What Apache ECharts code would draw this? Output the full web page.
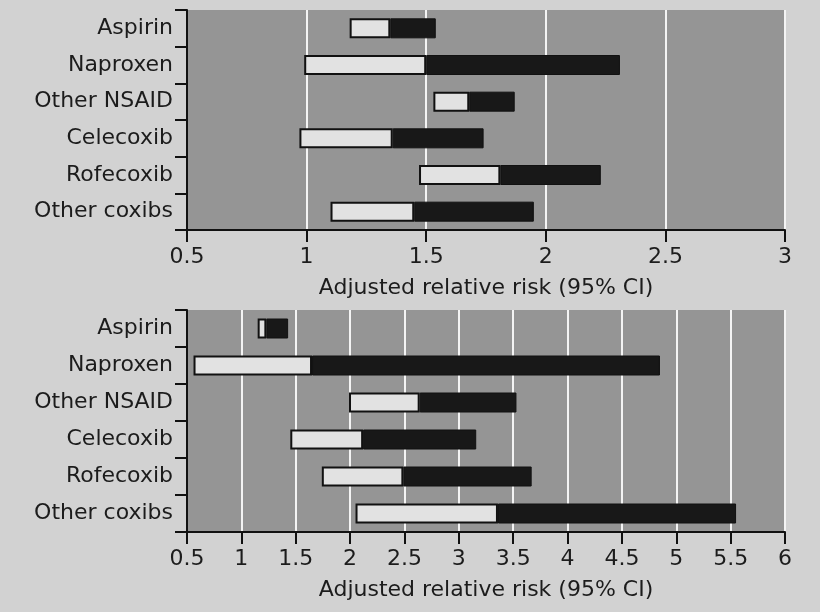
<!DOCTYPE html>
<html>
<head>
<meta charset="utf-8">
<script src="https://cdn.jsdelivr.net/npm/echarts@6/dist/echarts.min.js"></script>
<style>
html,body{margin:0;padding:0;background:#d2d2d2;}
#chart{width:820px;height:612px;}
</style>
</head>
<body>
<div id="chart"></div>
<script>
const categories = ['Aspirin', 'Naproxen', 'Other NSAID', 'Celecoxib', 'Rofecoxib', 'Other coxibs'];

// Top panel
const topLower = [1.18, 0.99, 1.53, 0.97, 1.47, 1.10];
const topPoint = [1.35, 1.50, 1.68, 1.36, 1.81, 1.45];
const topUpper = [1.54, 2.31, 1.87, 1.74, 2.23, 1.95];
const topTicks = [0.5, 3, 0.5]; // min, max, interval

// Bottom panel
const botLower = [1.15, 0.56, 1.99, 1.45, 1.74, 2.05];
const botPoint = [1.23, 1.65, 2.64, 2.12, 2.49, 3.36];
const botUpper = [1.43, 4.85, 3.53, 3.16, 3.67, 5.55];
const botTicks = [0.5, 6, 0.5];

const axisTitle = 'Adjusted relative risk (95% CI)';

const FONT = 'DejaVu Sans';
const TXT = '#1c1c1c';

function xAxisCfg(gridIndex, ticks) {
  return {
    type: 'value', gridIndex: gridIndex,
    min: ticks[0], max: ticks[1], interval: ticks[2],
    name: axisTitle, nameLocation: 'middle', nameGap: 47,
    nameTextStyle: {fontFamily: FONT, fontSize: 22, color: TXT},
    axisLine: {show: true, onZero: false, lineStyle: {color: '#111', width: 2}},
    axisTick: {show: true, length: 12, lineStyle: {color: '#111', width: 2}},
    axisLabel: {fontFamily: FONT, fontSize: 22, color: TXT, margin: 16},
    splitLine: {show: true, lineStyle: {color: '#f4f4f4', width: 2}}
  };
}
function yAxisCfg(gridIndex) {
  return {
    type: 'category', gridIndex: gridIndex, data: categories, inverse: true,
    axisLine: {show: true, lineStyle: {color: '#111', width: 2}},
    axisTick: {show: true, length: 12, lineStyle: {color: '#111', width: 2}},
    axisLabel: {fontFamily: FONT, fontSize: 22, color: TXT, margin: 14},
    splitLine: {show: false}
  };
}
function seriesFor(idx, lower, point, upper) {
  const stack = 's' + idx;
  return [
    {type: 'bar', xAxisIndex: idx, yAxisIndex: idx, stack: stack, barWidth: 20,
     itemStyle: {color: 'rgba(0,0,0,0)'}, silent: true,
     data: lower},
    {type: 'bar', xAxisIndex: idx, yAxisIndex: idx, stack: stack, barWidth: 20,
     itemStyle: {color: '#e2e2e2', borderColor: '#111', borderWidth: 2},
     data: point.map((p, i) => +(p - lower[i]).toFixed(3))},
    {type: 'bar', xAxisIndex: idx, yAxisIndex: idx, stack: stack, barWidth: 20,
     itemStyle: {color: '#181818', borderColor: '#111', borderWidth: 1},
     data: upper.map((u, i) => +(u - point[i]).toFixed(3))}
  ];
}

const chart = echarts.init(document.getElementById('chart'), null, {renderer: 'canvas'});
chart.setOption({
  backgroundColor: '#d2d2d2',
  animation: false,
  grid: [
    {left: 187, right: 35, top: 10, height: 220, show: true, backgroundColor: '#959595', borderWidth: 0},
    {left: 187, right: 35, top: 310, height: 222, show: true, backgroundColor: '#959595', borderWidth: 0}
  ],
  xAxis: [xAxisCfg(0, topTicks), xAxisCfg(1, botTicks)],
  yAxis: [yAxisCfg(0), yAxisCfg(1)],
  series: [].concat(
    seriesFor(0, topLower, topPoint, topUpper),
    seriesFor(1, botLower, botPoint, botUpper)
  )
});
</script>
</body>
</html>
